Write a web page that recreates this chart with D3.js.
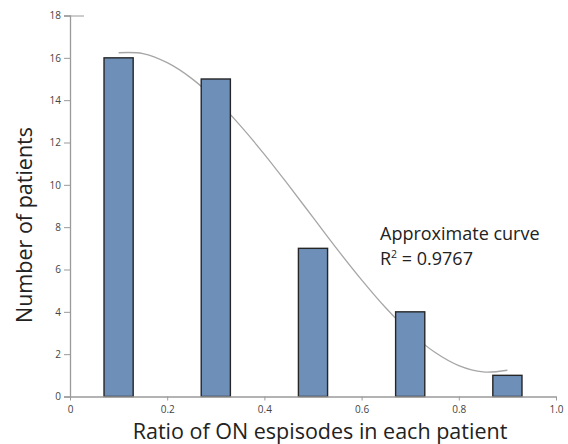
<!DOCTYPE html>
<html><head><meta charset="utf-8">
<script src="https://cdn.jsdelivr.net/npm/d3@7"></script>
<style>body{margin:0;background:#fff}svg{display:block}text{font-family:"Open Sans",sans-serif}</style>
</head><body><svg id="c" width="568" height="444"></svg>
<script>
const categories = [0.1, 0.3, 0.5, 0.7, 0.9];
const counts = [16, 15, 7, 4, 1];
const curveX = [0.1, 0.15, 0.2, 0.25, 0.3, 0.35, 0.4, 0.45, 0.5, 0.55, 0.6, 0.65, 0.7, 0.75, 0.8, 0.85, 0.9];
const curveY = [16.24, 16.2, 15.77, 15.03, 14.03, 12.81, 11.44, 9.97, 8.46, 6.95, 5.51, 4.18, 3.03, 2.1, 1.46, 1.16, 1.24];
const xTicks = [0, 0.2, 0.4, 0.6, 0.8, 1.0];
const yTicks = [0, 2, 4, 6, 8, 10, 12, 14, 16, 18];
const barWidth = 0.06;

const svg = d3.select("#c");
const x = d3.scaleLinear().domain([0, 1]).range([70, 556]);
const y = d3.scaleLinear().domain([0, 18]).range([396.5, 15.5]);

// fitted curve (behind bars)
const pts = curveX.map((v, i) => [v, curveY[i]]);
svg.append("path").datum(pts)
  .attr("d", d3.line().x(d => x(d[0])).y(d => y(d[1])).curve(d3.curveCatmullRom))
  .attr("fill", "none").attr("stroke", "#a6a6a6").attr("stroke-width", 1.3);

// bars
svg.selectAll("rect.bar").data(categories).join("rect")
  .attr("class", "bar")
  .attr("x", d => x(d - barWidth / 2))
  .attr("width", d => x(d + barWidth / 2) - x(d - barWidth / 2))
  .attr("y", (d, i) => y(counts[i]))
  .attr("height", (d, i) => y(0) - y(counts[i]))
  .attr("fill", "#6e8fb8").attr("stroke", "#262626").attr("stroke-width", 1.4);

// y axis
const ya = svg.append("g").attr("transform", "translate(70,0)")
  .call(d3.axisLeft(y).tickValues(yTicks).tickSize(6).tickPadding(3).tickFormat(d3.format("d")));
ya.select(".domain").attr("stroke", "#9a9a9a").attr("stroke-width", 1.3);
ya.selectAll(".tick line").attr("stroke", "#9a9a9a");
ya.selectAll(".tick text").attr("fill", "#444").attr("font-size", 10).attr("font-family", "Open Sans");
ya.selectAll(".tick").filter(d => d === 18).select("line").attr("x2", 14).attr("x1", -6);

// x axis
const xa = svg.append("g").attr("transform", "translate(0,396.5)")
  .call(d3.axisBottom(x).tickValues(xTicks).tickSize(4).tickPadding(5).tickSizeOuter(0)
    .tickFormat(d => d === 0 ? "0" : d3.format(".1f")(d)));
xa.select(".domain").attr("stroke", "#9a9a9a").attr("stroke-width", 1.3);
xa.selectAll(".tick line").attr("stroke", "#9a9a9a");
xa.selectAll(".tick text").attr("fill", "#444").attr("font-size", 10).attr("font-family", "Open Sans");

// axis titles
svg.append("text").attr("x", 320).attr("y", 439).attr("text-anchor", "middle")
  .attr("font-size", 21.5).attr("fill", "#222").text("Ratio of ON espisodes in each patient");
svg.append("text").attr("transform", "translate(32,225) rotate(-90)").attr("text-anchor", "middle")
  .attr("font-size", 21.5).attr("fill", "#222").text("Number of patients");

// annotation
svg.append("text").attr("x", 380).attr("y", 239.5).attr("font-size", 18).attr("fill", "#222")
  .text("Approximate curve");
const l2 = svg.append("text").attr("x", 380).attr("y", 264.5).attr("font-size", 18).attr("fill", "#222");
l2.append("tspan").text("R");
l2.append("tspan").attr("font-size", 10.5).attr("dy", -7).text("2");
l2.append("tspan").attr("dy", 7).text(" = 0.9767");
</script></body></html>
